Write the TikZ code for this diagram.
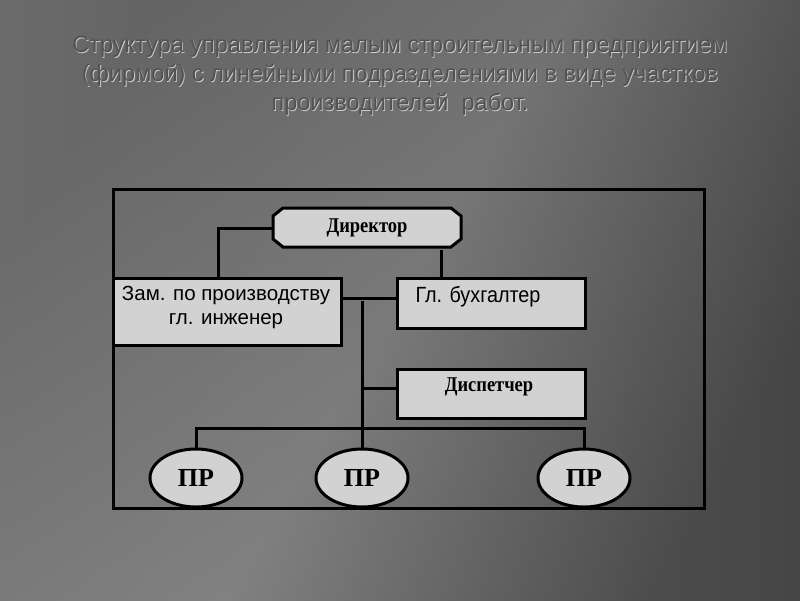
\documentclass[tikz,border=0pt]{standalone}
\usepackage{fontspec}
\setmainfont{Liberation Serif}
\newfontfamily\arial{Liberation Sans}
\usetikzlibrary{shapes.geometric,shapes.misc}
\definecolor{boxgray}{HTML}{D2D2D2}
\tikzset{
  line/.style={line width=3pt,black},
  boxnode/.style={draw=black,line width=3pt,fill=boxgray,inner sep=0pt},
  prnode/.style={draw=black,line width=3pt,fill=boxgray,ellipse,minimum width=92pt,minimum height=58pt,inner sep=0pt,font=\bfseries\fontsize{26}{26}\selectfont},
  titletext/.style={font=\arial\fontsize{23.5}{29}\selectfont,align=center}
}
\begin{document}
\begin{tikzpicture}[x=1pt,y=-1pt]
\useasboundingbox (0,0) rectangle (800,600);
\shade[left color=black!45, right color=black!75] (0,0) rectangle (800,600);
\shade[top color=black!70, bottom color=black!70, middle color=black!45, shading angle=60, opacity=0.5] (0,0) rectangle (800,600);
\node[titletext,text=white!80!black] (titleshadow) at (400.8,76.8) {Структура управления малым строительным предприятием\\(фирмой) с линейными подразделениями в виде участков\\производителей \ работ.};
\node[titletext,text=black!68] (title) at (400,76) {Структура управления малым строительным предприятием\\(фирмой) с линейными подразделениями в виде участков\\производителей \ работ.};
\node[draw=black,line width=3pt,minimum width=591pt,minimum height=319pt,anchor=north west,inner sep=0pt] (frame) at (112,188) {};
\draw[line,fill=boxgray,line join=miter] (283,208) -- (451,208) -- (461,216) -- (461,239) -- (451,247) -- (283,247) -- (273,239) -- (273,216) -- cycle;
\node[minimum width=188pt,minimum height=39pt,inner sep=0pt,font=\bfseries\fontsize{21}{21}\selectfont] (dir) at (367,228) {\scalebox{0.88}[1]{Директор}};
\node[boxnode,minimum width=228pt,minimum height=67pt,anchor=north west] (zam) at (112,277) {};
\node[font=\arial\fontsize{20.5}{24}\selectfont,align=center] (zamt) at (226,307) {Зам. по производству\\гл. инженер};
\node[boxnode,minimum width=188pt,minimum height=50pt,anchor=north west] (buh) at (396,277) {};
\node[font=\arial\fontsize{22}{22}\selectfont] (buht) at (478,297) {\scalebox{0.9}[1]{Гл. бухгалтер}};
\node[boxnode,minimum width=188pt,minimum height=49pt,anchor=north west] (disp) at (396,368) {};
\node[font=\bfseries\fontsize{21}{21}\selectfont] (dispt) at (489,387) {\scalebox{0.88}[1]{Диспетчер}};
\node[prnode] (pr1) at (196,478) {ПР};
\node[prnode] (pr2) at (362,478) {ПР};
\node[prnode] (pr3) at (584,478) {ПР};
\draw[line] (dir.west) -- (218,228) -- (218,277);
\draw[line] (441,250) -- (441,277);
\draw[line] (340,298) -- (buh.west |- 0,298);
\draw[line] (362,301) -- (pr2.north);
\draw[line] (362,388) -- (disp.west |- 0,388);
\draw[line] (pr1.north) -- (196,428) -- (584,428) -- (pr3.north);
\end{tikzpicture}
\end{document}
